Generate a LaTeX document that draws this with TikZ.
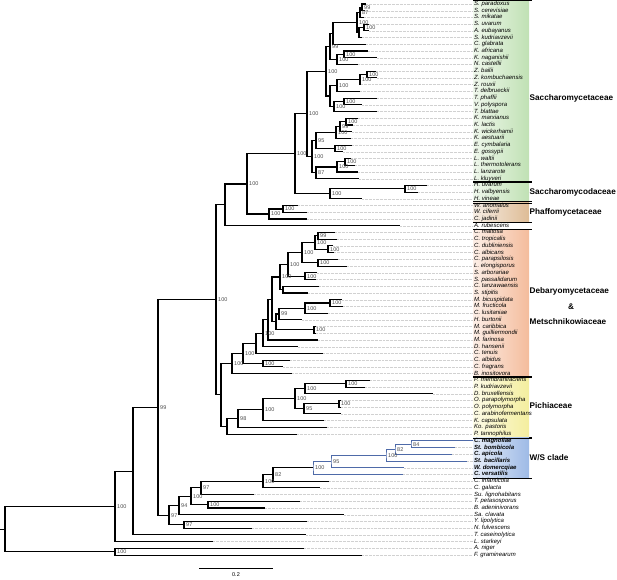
\documentclass[tikz,border=0pt]{standalone}
\usepackage{fontspec}
\setmainfont{Liberation Sans}
\usepackage{xcolor}
\usetikzlibrary{calc}
\definecolor{wsblue}{RGB}{78,106,168}
\definecolor{sacgreen}{RGB}{192,225,180}
\definecolor{phafbrown}{RGB}{222,188,150}
\definecolor{debsalmon}{RGB}{244,188,156}
\definecolor{pichyellow}{RGB}{244,238,158}
\definecolor{wsfill}{RGB}{158,186,230}
\tikzstyle{branch} = [line width=1.1pt]
\tikzstyle{ws} = [wsblue, line width=0.9pt]
\tikzstyle{lead} = [black!18, line width=0.35pt, densely dotted]
\tikzstyle{tx} = [anchor=west, inner sep=0pt, text height=4.3pt, text depth=1.3pt,
    font=\fontsize{6}{6}\selectfont\itshape]
\tikzstyle{wstx} = [tx, font=\fontsize{6}{6}\selectfont\bfseries\itshape]
\tikzstyle{boot} = [anchor=west, inner sep=0.5pt, xshift=1.5pt, text=black!70,
    text height=3.9pt, text depth=0pt, font=\fontsize{5.5}{5.5}\selectfont]
\tikzstyle{famlabel} = [anchor=west, inner sep=0pt, font=\fontsize{8.2}{9}\selectfont\bfseries]
\tikzstyle{grpline} = [line width=0.55pt]
% internal node: [style]{name}{x}{child}{child}{support}
\newcommand{\inode}[6][]{%
  \path let \p1=($(#4)!.5!(#5)$) in (#3pt,\y1) coordinate (#2);
  \draw[branch,#1] (#4) -| (#2) |- (#5);
  \ifx\relax#6\relax\else\node[boot] (b#2) at (#2) {#6};\fi}

\begin{document}
\begin{tikzpicture}[x=1pt,y=-1pt]
\useasboundingbox (0,0) rectangle (617,579);

% family boxes
\foreach \ya/\yb/\col in {0.6/181.5/sacgreen, 182.6/201.7/sacgreen, 202.8/222.4/phafbrown,
    229.1/376.4/debsalmon, 377.5/436.9/pichyellow, 437.9/477.8/wsfill}{
  \shade[left color=\col!25, right color=\col] (473,\ya) rectangle (529,\yb);
  \draw[grpline] (473,\ya) -- (532,\ya) (473,\yb) -- (532,\yb);
}

% leaves
\foreach \i/\tx/\sty/\nm in {
1/366/tx/{S. paradoxus}, 2/365/tx/{S. cerevisiae}, 3/364/tx/{S. mikatae},
4/369/tx/{S. uvarum}, 5/369/tx/{A. eubayanus}, 6/362/tx/{S. kudriavzevii},
7/366/tx/{C. glabrata}, 8/368/tx/{K. africana}, 9/377/tx/{K. naganishii},
10/358/tx/{N. castellii}, 11/376/tx/{Z. bailii}, 12/377/tx/{Z. kombuchaensis},
13/361/tx/{Z. rouxii}, 14/360/tx/{T. delbrueckii}, 15/377/tx/{T. phaffii},
16/362/tx/{V. polyspora}, 17/377/tx/{T. blattae}, 18/358/tx/{K. marxianus},
19/353/tx/{K. lactis}, 20/352/tx/{K. wickerhamii}, 21/351/tx/{K. aestuarii},
22/352/tx/{E. cymbalaria}, 23/343/tx/{E. gossypii}, 24/351/tx/{L. waltii},
25/355/tx/{L. thermotolerans}, 26/358/tx/{L. lanzarote}, 27/359/tx/{L. kluyveri},
28/427/tx/{H. uvarum}, 29/418/tx/{H. valbyensis}, 30/362/tx/{H. vineae},
31/298/tx/{W. anomalus}, 32/307/tx/{W. ciferrii}, 33/307/tx/{C. jadinii},
34/400/tx/{A. rubescens}, 35/335/tx/{C. maltosa}, 36/337/tx/{C. tropicalis},
37/333/tx/{C. dubliniensis}, 38/334/tx/{C. albicans}, 39/338/tx/{C. parapsilosis},
40/347/tx/{L. elongisporus}, 41/317/tx/{S. arborariae}, 42/316/tx/{S. passalidarum},
43/319/tx/{C. tanzawaensis}, 44/308/tx/{S. stipitis}, 45/342/tx/{M. bicuspidata},
46/343/tx/{M. fructicola}, 47/328/tx/{C. lusitaniae}, 48/302/tx/{H. burtonii},
49/316/tx/{M. caribbica}, 50/316/tx/{M. guilliermondii}, 51/318/tx/{M. farinosa},
52/298/tx/{D. hansenii}, 53/323/tx/{C. tenuis}, 54/290/tx/{C. albidus},
55/283/tx/{C. fragrans}, 56/292/tx/{B. inositovora}, 57/370/tx/{P. membranifaciens},
58/365/tx/{P. kudriavzevii}, 59/433/tx/{D. bruxellensis}, 60/341/tx/{O. parapolymorpha},
61/341/tx/{O. polymorpha}, 62/341/tx/{C. arabinofermentans}, 63/324/tx/{K. capsulata},
64/327/tx/{Ko. pastoris}, 65/297/tx/{P. tannophilus}, 66/473/wstx/{C. magnoliae},
67/455/wstx/{St. bombicola}, 68/452/wstx/{C. apicola}, 69/467/wstx/{St. bacillaris},
70/404/wstx/{W. domercqiae}, 71/403/wstx/{C. versatilis}, 72/329/tx/{C. infanticola},
73/320/tx/{C. galacta}, 74/254/tx/{Su. lignohabitans}, 75/300/tx/{T. petasosporus},
76/265/tx/{B. adeninivorans}, 77/344/tx/{Sa. clavata}, 78/307/tx/{Y. lipolytica},
79/252/tx/{N. fulvescens}, 80/306/tx/{T. caseinolytica}, 81/213/tx/{L. starkeyi},
82/304/tx/{A. niger}, 83/362/tx/{F. graminearum}}{
  \coordinate (t\i) at (\tx,{4+(\i-1)*6.72});
  \node[\sty] (lab\i) at (474,{4+(\i-1)*6.72}) {\nm};
  \ifnum\tx<470 \draw[lead] (t\i) -- ([xshift=-1.5pt]lab\i.west);\fi
}

% Saccharomycetaceae
\inode{pc}{362}{t1}{t2}{99}
\inode{pcm}{360}{pc}{t3}{87}
\inode{ue}{364}{t4}{t5}{100}
\inode{uek}{359}{ue}{t6}{}
\inode{sac0}{357}{pcm}{uek}{100}
\inode{sg}{333}{sac0}{t7}{}
\inode{kan}{344}{t8}{t9}{100}
\inode{kn}{337}{kan}{t10}{100}
\inode{wgd}{330}{sg}{kn}{99}
\inode{zbk}{367}{t11}{t12}{100}
\inode{zr}{360}{zbk}{t13}{100}
\inode{zt}{337}{zr}{t14}{100}
\inode{tv}{344}{t15}{t16}{100}
\inode{tet}{334}{tv}{t17}{100}
\inode{ztt}{330}{zt}{tet}{}
\inode{up}{326}{wgd}{ztt}{100}
\inode{km}{346}{t18}{t19}{100}
\inode{kw}{340}{km}{t20}{99}
\inode{kla}{336}{kw}{t21}{100}
\inode{ere}{335}{t22}{t23}{100}
\inode{ke}{316}{kla}{ere}{95}
\inode{lw}{345}{t24}{t25}{100}
\inode{ll}{337}{lw}{t26}{100}
\inode{lac}{316}{ll}{t27}{87}
\inode{kl}{312}{ke}{lac}{100}
\inode{sacc}{307}{up}{kl}{100}
% Saccharomycodaceae, Phaffomycetaceae
\inode{hu}{405}{t28}{t29}{100}
\inode{hans}{330}{hu}{t30}{100}
\inode{sach}{295}{sacc}{hans}{100}
\inode{wick}{283}{t31}{t32}{100}
\inode{phaf}{269}{wick}{t33}{100}
\inode{sph}{247}{sach}{phaf}{100}
\inode{rub}{225}{sph}{t34}{}
% Debaryomycetaceae & Metschnikowiaceae
\inode{cmt}{318}{t35}{t36}{99}
\inode{cda}{328}{t37}{t38}{100}
\inode{cand}{315}{cmt}{cda}{100}
\inode{cpl}{318}{t39}{t40}{100}
\inode{lod}{302}{cand}{cpl}{100}
\inode{sch}{305}{t41}{t42}{100}
\inode{ls}{288}{lod}{sch}{100}
\inode{cts}{283}{t43}{t44}{}
\inode{cug}{280}{ls}{cts}{100}
\inode{mbf}{330}{t45}{t46}{100}
\inode{met}{305}{mbf}{t47}{100}
\inode{meth}{279}{met}{t48}{99}
\inode{mey}{314}{t49}{t50}{100}
\inode{mm}{276}{meth}{mey}{}
\inode{cm}{272}{cug}{mm}{}
\inode{cmf}{268}{cm}{t51}{}
\inode{cmd}{263}{cmf}{t52}{100}
\inode{cten}{256}{cmd}{t53}{}
\inode{caf}{263}{t54}{t55}{100}
\inode{deb}{243}{cten}{caf}{100}
\inode{debb}{232}{deb}{t56}{100}
% Pichiaceae
\inode{pmk}{346}{t57}{t58}{100}
\inode{pdb}{305}{pmk}{t59}{100}
\inode{ogp}{339}{t60}{t61}{100}
\inode{ogc}{304}{ogp}{t62}{95}
\inode{pic}{295}{pdb}{ogc}{100}
\inode{pkc}{263}{pic}{t63}{100}
\inode{pkp}{238}{pkc}{t64}{98}
\inode{pich}{227}{pkp}{t65}{}
\inode{dp}{221}{debb}{pich}{}
\inode{sdp}{216}{rub}{dp}{100}
% W/S clade and the rest
\inode[ws]{wsa}{411}{t66}{t67}{84}
\inode[ws]{wsb}{395}{wsa}{t68}{82}
\inode[ws]{wsc}{386}{wsb}{t69}{100}
\inode[ws]{wsd}{331}{wsc}{t70}{95}
\inode[ws]{wsclade}{313}{wsd}{t71}{100}
\inode{cinf}{273}{wsclade}{t72}{82}
\inode{cgal}{263}{cinf}{t73}{100}
\inode{sul}{201}{cgal}{t74}{97}
\inode{tpb}{208}{t75}{t76}{100}
\inode{trich}{191}{sul}{tpb}{100}
\inode{scl}{179}{trich}{t77}{94}
\inode{yln}{184}{t78}{t79}{97}
\inode{dip}{169}{scl}{yln}{97}
\inode{budd}{158}{sdp}{dip}{99}
\inode{ing}{133}{budd}{t80}{}
\inode{fung}{115}{ing}{t81}{100}
\inode{out}{115}{t82}{t83}{100}
\inode{root}{5}{fung}{out}{}
\draw[branch] (root) -- ++(-5,0);

% family names
\node[famlabel] (fsac) at (529.5,98) {Saccharomycetaceae};
\node[famlabel] (fsacd) at (529.5,192.2) {Saccharomycodaceae};
\node[famlabel] (fpha) at (529.5,212.5) {Phaffomycetaceae};
\node[famlabel] (fdeb) at (529.5,291) {Debaryomycetaceae};
\node[famlabel, anchor=center] (famp) at (571,306.5) {\&};
\node[famlabel] (fmet) at (529.5,322) {Metschnikowiaceae};
\node[famlabel] (fpic) at (529.5,405.5) {Pichiaceae};
\node[famlabel] (fws) at (529.5,458) {W/S clade};

% scale bar
\coordinate (sbl) at (199,568);
\coordinate (sbr) at (273,568);
\draw[line width=0.9pt] (sbl) -- (sbr);
\node[font=\fontsize{5.5}{5.5}\selectfont, inner sep=0pt, below=4pt] (sbt) at ($(sbl)!.5!(sbr)$) {0.2};
\end{tikzpicture}
\end{document}
